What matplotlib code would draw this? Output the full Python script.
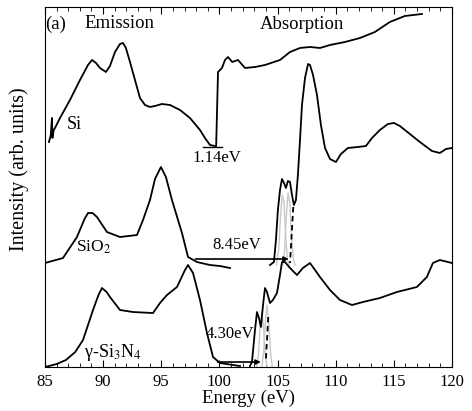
import matplotlib
matplotlib.use("Agg")
import matplotlib.pyplot as plt
import numpy as np

plt.rcParams['font.family'] = ['Liberation Serif', 'DejaVu Serif']
plt.rcParams['mathtext.fontset'] = 'stix'

# Si: emission + absorption (top curve)
si_e = [85.34, 85.5, 85.6, 85.64, 85.75, 85.86, 86.29, 87.15, 88.01, 88.70, 89.04, 89.39, 89.73,
        90.24, 90.59, 91.02, 91.45, 91.71, 91.96, 92.31, 92.74, 93.17, 93.60, 94.03, 94.46,
        95.06, 95.75, 96.61, 97.47, 98.33, 98.76, 99.19, 99.62, 99.72, 99.88, 100.22, 100.48,
        100.74, 101.1, 101.6, 102.2, 103.06, 103.92, 105.21, 106.07, 106.93, 107.79, 108.65,
        109.51, 110.80, 112.09, 113.37, 114.66, 115.95, 117.42]
si_i = [225, 232, 249, 229, 237, 239, 249, 267, 287, 302, 307, 304, 299,
        295, 301, 315, 323, 324, 319, 305, 287, 269, 262, 260, 261,
        263, 262, 257, 249, 237, 229, 222, 221, 221, 295, 299, 307,
        310, 305, 307, 299, 300, 302, 307, 315, 319, 320, 319,
        322, 325, 329, 335, 345, 351, 353]

# SiO2 emission
sio2_em_e = [85.0, 86.55, 87.75, 88.40, 88.70, 89.1, 89.47, 90.33, 91.45, 92.91, 93.43, 94.03,
             94.46, 94.97, 95.40, 95.92, 96.78, 97.30, 98.07, 99.19, 100.05, 100.91]
sio2_em_i = [104, 109, 130, 148, 154, 154, 150, 135, 130, 132, 147, 167,
             188, 200, 190, 167, 134, 110, 105, 102, 101, 99]

# SiO2 absorption
sio2_ab_e = [104.35, 104.69, 104.86, 105.03, 105.21, 105.38, 105.55, 105.72, 105.89, 106.07,
             106.24, 106.41, 106.58, 106.75, 106.93, 107.10, 107.36, 107.62, 107.79, 108.05,
             108.39, 108.73, 109.08, 109.51, 110.02, 110.45, 111.05, 111.91, 112.60, 113.12,
             113.80, 114.49, 115.01, 115.52, 116.38, 117.24, 118.28, 118.96, 119.48, 120.0]
sio2_ab_i = [102, 105, 127, 157, 177, 188, 184, 179, 186, 185,
             172, 162, 167, 192, 227, 262, 289, 303, 302, 292,
             272, 242, 219, 208, 205, 213, 219, 220, 221, 229,
             237, 243, 244, 241, 233, 225, 216, 214, 218, 219]

# gamma-Si3N4 emission
sin_em_e = [85.0, 86.0, 86.8, 87.6, 88.27, 88.7, 89.13, 89.6, 89.9, 90.3, 90.59, 91.45, 92.57,
            94.29, 94.89, 95.49, 96.35, 97.04, 97.30, 97.73, 98.33, 98.93, 99.45, 100.05, 101.77]
sin_em_i = [0, 3, 7, 15, 27, 42, 57, 72, 79, 75, 70, 57, 55,
            54, 64, 72, 80, 97, 102, 94, 67, 34, 10, 4, 1]

# gamma-Si3N4 absorption
sin_ab_e = [102.63, 102.8, 103.06, 103.23, 103.40, 103.57, 103.75, 103.92, 104.09, 104.35,
            104.6, 104.95, 105.21, 105.38, 105.64, 106.07, 106.67, 107.18, 107.79, 108.65,
            109.51, 110.37, 111.40, 112.34, 113.80, 115.26, 116.98, 117.84, 118.36, 118.96, 120.0]
sin_ab_i = [1, 5, 37, 55, 49, 40, 62, 79, 75, 64,
            67, 74, 92, 105, 105, 99, 92, 99, 104, 90,
            77, 67, 62, 65, 69, 75, 80, 90, 104, 107, 104]

# grey fitted components
g1_e = [104.9, 105.1, 105.25, 105.4, 105.55, 105.7, 105.85, 106.0]
g1_i = [102, 118, 150, 172, 165, 130, 108, 102]
g2_e = [105.45, 105.6, 105.75, 105.9, 106.05, 106.2, 106.35, 106.5]
g2_i = [102, 115, 150, 174, 165, 130, 108, 102]
g3_e = [103.2, 103.35, 103.5, 103.65, 103.8, 103.95, 104.1]
g3_i = [0, 12, 40, 55, 38, 12, 0]
g4_e = [103.65, 103.8, 103.95, 104.1, 104.25, 104.4, 104.55]
g4_i = [0, 14, 45, 62, 42, 14, 0]

fig = plt.figure(figsize=(4.72, 4.11), dpi=100)
ax = fig.add_axes([0.0953, 0.107, 0.8623, 0.876])

for e, i in [(g1_e, g1_i), (g2_e, g2_i), (g3_e, g3_i), (g4_e, g4_i)]:
    ax.plot(e, i, color='#c8c8c8', lw=1.0)

ax.plot(si_e, si_i, 'k', lw=1.3)
ax.plot(sio2_em_e, sio2_em_i, 'k', lw=1.3)
ax.plot(sio2_ab_e, sio2_ab_i, 'k', lw=1.3)
ax.plot(sin_em_e, sin_em_i, 'k', lw=1.3)
ax.plot(sin_ab_e, sin_ab_i, 'k', lw=1.3)

# onset lines
ax.plot([106.35, 106.07], [160, 104], 'k--', lw=1.3, dashes=(3, 2))
ax.plot([104.2, 104.0], [50, 8], 'k--', lw=1.3, dashes=(3, 2))

# band gaps
ax.plot([98.59, 100.22], [220, 220], 'k', lw=1.0)
ax.annotate('', xy=(106.2, 108), xytext=(97.7, 108),
            arrowprops=dict(arrowstyle='-|>', color='k', lw=1.2, mutation_scale=7))
ax.annotate('', xy=(103.8, 5), xytext=(99.6, 5),
            arrowprops=dict(arrowstyle='-|>', color='k', lw=1.2, mutation_scale=7))

fs = 12
ax.text(99.75, 209, '1.14eV', fontsize=fs, ha='center', va='center')
ax.text(101.45, 122, '8.45eV', fontsize=fs, ha='center', va='center')
ax.text(100.9, 33, '4.30eV', fontsize=fs, ha='center', va='center')
ax.text(87.5, 242, 'Si', fontsize=13, ha='center', va='center')
ax.text(89.2, 120, 'SiO$_2$', fontsize=12.5, ha='center', va='center')
ax.text(90.8, 15, 'γ-Si$_3$N$_4$', fontsize=13, ha='center', va='center')
ax.text(85.05, 343, '(a)', fontsize=13.5, ha='left', va='center')
ax.text(91.4, 343, 'Emission', fontsize=13.5, ha='center', va='center')
ax.text(107.1, 342, 'Absorption', fontsize=13.5, ha='center', va='center')

ax.set_xlim(85, 120)
ax.set_ylim(0, 360)
ax.set_xticks(np.arange(85, 121, 5))
ax.set_xticks(np.arange(85, 121, 1), minor=True)
ax.set_yticks([])
ax.tick_params(axis='x', which='both', direction='in', top=True, labelsize=12, pad=5)
ax.tick_params(axis='x', which='major', length=5)
ax.tick_params(axis='x', which='minor', length=3)
ax.set_xlabel('Energy (eV)', fontsize=13.5, labelpad=0)
ax.set_ylabel('Intensity (arb. units)', fontsize=14.5)
ax.yaxis.set_label_coords(-0.04, 0.55)

fig.savefig('out.png', dpi=100)
